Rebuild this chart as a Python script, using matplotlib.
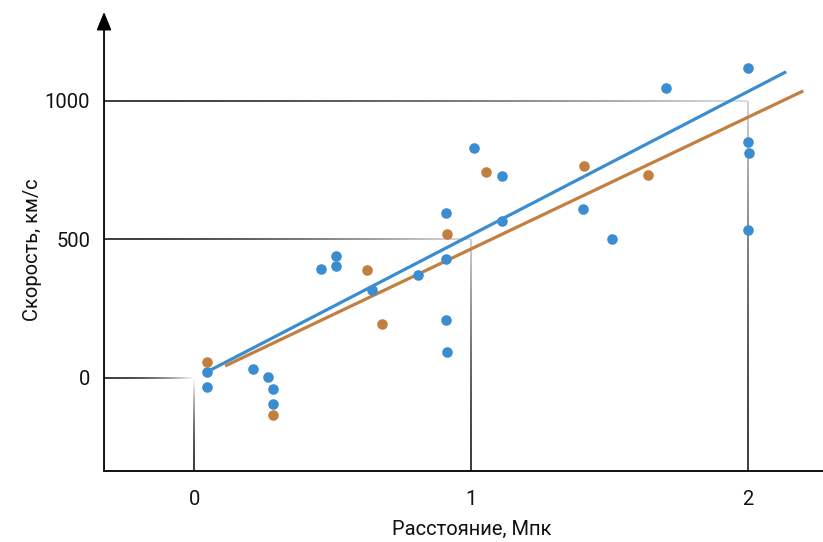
import numpy as np
import matplotlib
matplotlib.use('Agg')
import matplotlib.pyplot as plt
from matplotlib.collections import LineCollection

plt.rcParams['font.family'] = ['Roboto', 'DejaVu Sans']

# ---- data ----
blue_x = [0.047, 0.047, 0.213, 0.267, 0.285, 0.285, 0.458, 0.513, 0.513, 0.643, 0.809,
          0.91, 0.91, 0.91, 0.913, 1.011, 1.112, 1.112, 1.404, 1.509, 1.704, 2.0, 2.0, 2.004, 2.0]
blue_y = [22, -32, 32, 4, -40, -94, 393, 440, 404, 318, 372,
          596, 430, 209, 94, 830, 729, 567, 610, 502, 1047, 1119, 852, 812, 534]

orange_x = [0.047, 0.285, 0.625, 0.679, 0.913, 1.054, 1.408, 1.639]
orange_y = [58, -134, 390, 195, 520, 744, 765, 733]

blue_fit_x = [0.047, 2.137]
blue_fit_y = [22, 1105]
orange_fit_x = [0.112, 2.199]
orange_fit_y = [43, 1036]

# step points where the fading guide lines meet
guide_x = [0, 1, 2]
guide_y = [0, 500, 1000]

x_ticks = [0, 1, 2]
y_ticks = [0, 500, 1000]

BLUE = '#3a8dd0'
ORANGE = '#c27f3f'

XMIN, XMAX = -0.325, 2.27
YMIN, YMAX = -336, 1321

fig = plt.figure(figsize=(8.23, 5.42), dpi=100)
ax = fig.add_axes([0.1264, 0.131, 0.8736, 0.847])
ax.set_xlim(XMIN, XMAX)
ax.set_ylim(YMIN, YMAX)
for s in ax.spines.values():
    s.set_visible(False)


def fading(x0, y0, x1, y1, g0, g1, n=150, power=1.6):
    # line drawn as many small pieces going from gray g0 to gray g1
    xs = np.linspace(x0, x1, n + 1)
    ys = np.linspace(y0, y1, n + 1)
    segs = [[(xs[i], ys[i]), (xs[i + 1], ys[i + 1])] for i in range(n)]
    t = np.linspace(0, 1, n) ** power
    g = g0 + (g1 - g0) * t
    cols = [(v, v, v) for v in g]
    lc = LineCollection(segs, colors=cols, linewidths=1.2, zorder=1, capstyle='butt')
    ax.add_collection(lc)


for gx, gy in zip(guide_x, guide_y):
    if gy == 0:
        fading(XMIN, gy, gx, gy, 0.1, 1.0, power=2.2)
        fading(gx, YMIN, gx, gy, 0.1, 1.0, power=1.8)
    else:
        fading(XMIN, gy, gx, gy, 0.1, 0.85)
        fading(gx, YMIN, gx, gy, 0.1, 0.8)

# axes with arrows (x arrow runs past the right edge, as in the reference)
ax.annotate('', xy=(0, 1.0), xytext=(0, 0), xycoords='axes fraction',
            arrowprops=dict(arrowstyle='-|>,head_length=1.1,head_width=0.45', color='black', lw=1.3,
                            shrinkA=0, shrinkB=0), zorder=5)
ax.annotate('', xy=(1.03, 0), xytext=(0, 0), xycoords='axes fraction',
            arrowprops=dict(arrowstyle='-|>,head_length=1.1,head_width=0.45', color='black', lw=1.3,
                            shrinkA=0, shrinkB=0), zorder=5, annotation_clip=False)

# fit lines and points
ax.plot(blue_fit_x, blue_fit_y, color=BLUE, lw=2.3, solid_capstyle='butt', zorder=3)
ax.plot(orange_fit_x, orange_fit_y, color=ORANGE, lw=2.3, solid_capstyle='butt', zorder=3)
ax.scatter(blue_x, blue_y, s=58, color=BLUE, zorder=4, linewidths=0)
ax.scatter(orange_x, orange_y, s=58, color=ORANGE, zorder=4, linewidths=0)

ax.set_xticks(x_ticks)
ax.set_yticks(y_ticks)
ax.set_xticklabels([str(v) for v in x_ticks])
ax.set_yticklabels([str(v) for v in y_ticks])
ax.tick_params(axis='both', length=0, labelsize=14.5, colors='#111111')
ax.tick_params(axis='x', pad=14)
ax.tick_params(axis='y', pad=10)

# axis titles placed by hand so they stay inside the small canvas
fig.text(472 / 823, 1 - 529 / 542, 'Расстояние, Мпк', fontsize=14.5, color='#111111',
         ha='center', va='center')
fig.text(33 / 823, 1 - 250 / 542, 'Скорость, км/с', fontsize=14.5, color='#111111',
         ha='center', va='center', rotation=90)

fig.savefig('out.png', dpi=100)
